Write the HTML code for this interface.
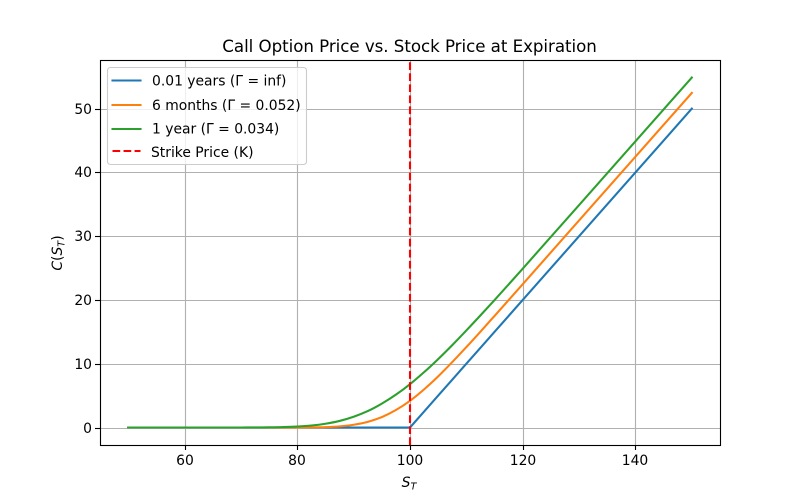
<!DOCTYPE html>
<html>
<head>
<meta charset="utf-8">
<title>Call Option Price vs. Stock Price at Expiration</title>
<style>
html,body{margin:0;padding:0;background:#fff;}
svg{display:block;font-family:"DejaVu Sans",sans-serif;}
</style>
</head>
<body>
<svg id="chart" xmlns="http://www.w3.org/2000/svg" width="800" height="500" viewBox="0 0 800 500">
  <rect x="0" y="0" width="800" height="500" fill="#ffffff"/>
  <g id="grid"></g>
  <g id="series"></g>
  <rect x="100.5" y="60.5" width="620" height="385" fill="none" stroke="#000" stroke-width="1.11"/>
  <g id="ticks"></g>
  <text x="222.3" y="52" textLength="374.5" font-size="16.67" fill="#000">Call Option Price vs. Stock Price at Expiration</text>
  <text x="409" y="487" text-anchor="middle" font-size="13.89" fill="#000"><tspan font-style="italic">S</tspan><tspan font-style="italic" font-size="9.7" dy="2.5">T</tspan></text>
  <text transform="translate(62 253) rotate(-90)" text-anchor="middle" font-size="13.89" fill="#000"><tspan font-style="italic">C</tspan><tspan>(</tspan><tspan font-style="italic">S</tspan><tspan font-style="italic" font-size="9.7" dy="2.5">T</tspan><tspan dy="-2.5">)</tspan></text>
  <g id="legend">
    <rect x="107.5" y="67.5" width="199" height="97" rx="3" ry="3" fill="#ffffff" fill-opacity="0.8" stroke="#cccccc" stroke-width="1.11"/>
    <line x1="112.5" y1="80.5" x2="140.5" y2="80.5" stroke="#1f77b4" stroke-width="2.08" stroke-linecap="square"/>
    <text x="152" y="85.5" font-size="13.89" fill="#000">0.01 years (Γ = inf)</text>
    <line x1="112.5" y1="105" x2="140.5" y2="105" stroke="#ff7f0e" stroke-width="2.08" stroke-linecap="square"/>
    <text x="152" y="110" font-size="13.89" fill="#000">6 months (Γ = 0.052)</text>
    <line x1="112.5" y1="129" x2="140.5" y2="129" stroke="#2ca02c" stroke-width="2.08" stroke-linecap="square"/>
    <text x="152" y="133.5" font-size="13.89" fill="#000">1 year (Γ = 0.034)</text>
    <line x1="112.5" y1="151" x2="140.5" y2="151" stroke="#ff0000" stroke-width="2.08" stroke-dasharray="7.7 3.33"/>
    <text x="151" y="157" font-size="13.89" fill="#000">Strike Price (K)</text>
  </g>
</svg>
<script>
var stockPrices = [50,55,60,65,70,72.5,75,77.5,80,82.5,85,87.5,90,92.5,95,97.5,100,102.5,105,107.5,110,112.5,115,117.5,120,125,130,135,140,145,150];
var seriesShort = [0,0,0,0,0,0,0,0,0,0,0,0,0,0,0,0,0,2.5,5,7.5,10,12.5,15,17.5,20,25,30,35,40,45,50];
var seriesSixMonths = [0,0,0,0,0,0,0,0.001,0.006,0.02,0.058,0.175,0.43,0.88,1.63,2.74,4.19,5.98,8.02,10.26,12.61,15.03,17.5,19.98,22.47,27.47,32.47,37.47,42.47,47.47,52.47];
var seriesOneYear = [0,0,0,0,0.002,0.008,0.025,0.065,0.15,0.31,0.59,1.03,1.69,2.57,3.74,5.15,6.8,8.68,10.73,12.92,15.22,17.58,19.99,22.44,24.91,29.9,34.88,39.88,44.88,49.88,54.88];
var strikePrice = [100];
var xTicks = [60,80,100,120,140];
var yTicks = [0,10,20,30,40,50];

var NS = 'http://www.w3.org/2000/svg';
function xScale(v){ return 100 + (v - 45) * 620 / 110; }
function yScale(v){ return 427.5 - v * 6.377; }
function mk(tag, attrs, parent){
  var el = document.createElementNS(NS, tag);
  for (var k in attrs) el.setAttribute(k, attrs[k]);
  parent.appendChild(el);
  return el;
}
var grid = document.getElementById('grid');
var ticks = document.getElementById('ticks');
var series = document.getElementById('series');

xTicks.forEach(function(t){
  var x = Math.round(xScale(t)) + 0.5;
  var g = mk('line', {x1:x, y1:60, x2:x, y2:445, stroke:'#b0b0b0', 'stroke-width':1.11}, grid);
  
  
  var m = mk('line', {x1:x, y1:445, x2:x, y2:450, stroke:'#000', 'stroke-width':1.11}, ticks);
  
  
  var l = mk('text', {x:x - 0.5, y:465, 'text-anchor':'middle', 'font-size':13.89, fill:'#000'}, ticks);
  
  
  l.textContent = t;
});
yTicks.forEach(function(t){
  var y = Math.round(yScale(t)) + 0.5;
  var g = mk('line', {x1:100, y1:y, x2:720, y2:y, stroke:'#b0b0b0', 'stroke-width':1.11}, grid);
  
  
  var m = mk('line', {x1:95, y1:y, x2:100, y2:y, stroke:'#000', 'stroke-width':1.11}, ticks);
  
  
  var l = mk('text', {x:92, y:y + 4.5, 'text-anchor':'end', 'font-size':13.89, fill:'#000'}, ticks);
  
  
  l.textContent = t;
});
function straightPath(values){
  return values.map(function(v, i){
    return (i ? 'L' : 'M') + xScale(stockPrices[i]).toFixed(2) + ' ' + yScale(v).toFixed(2);
  }).join(' ');
}
function smoothPath(values){
  var n = values.length;
  var xs = stockPrices.map(xScale);
  var ys = values.map(yScale);
  var slope = xs.map(function(x, i){
    var a = Math.max(i - 1, 0), b = Math.min(i + 1, n - 1);
    return (ys[b] - ys[a]) / (xs[b] - xs[a]);
  });
  var d = 'M' + xs[0].toFixed(2) + ' ' + ys[0].toFixed(2);
  for (var i = 1; i < n; i++) {
    var h = (xs[i] - xs[i - 1]) / 3;
    d += ' C' + (xs[i - 1] + h).toFixed(2) + ' ' + (ys[i - 1] + slope[i - 1] * h).toFixed(2) +
         ' ' + (xs[i] - h).toFixed(2) + ' ' + (ys[i] - slope[i] * h).toFixed(2) +
         ' ' + xs[i].toFixed(2) + ' ' + ys[i].toFixed(2);
  }
  return d;
}
var curveStyle = {fill:'none', 'stroke-width':2.08, 'stroke-linecap':'square', 'stroke-linejoin':'round'};
function curve(d, color){
  var attrs = {d:d, stroke:color};
  for (var k in curveStyle) attrs[k] = curveStyle[k];
  return mk('path', attrs, series);
}
var lineShort = curve(straightPath(seriesShort), '#1f77b4');


var lineSix = curve(smoothPath(seriesSixMonths), '#ff7f0e');


var lineYear = curve(smoothPath(seriesOneYear), '#2ca02c');


var strikeX = xScale(strikePrice[0]);
var strike = mk('line', {x1:strikeX, y1:445, x2:strikeX, y2:60, stroke:'#ff0000', 'stroke-width':2.08, 'stroke-dasharray':'7.7 3.33'}, series);


</script>
</body>
</html>
